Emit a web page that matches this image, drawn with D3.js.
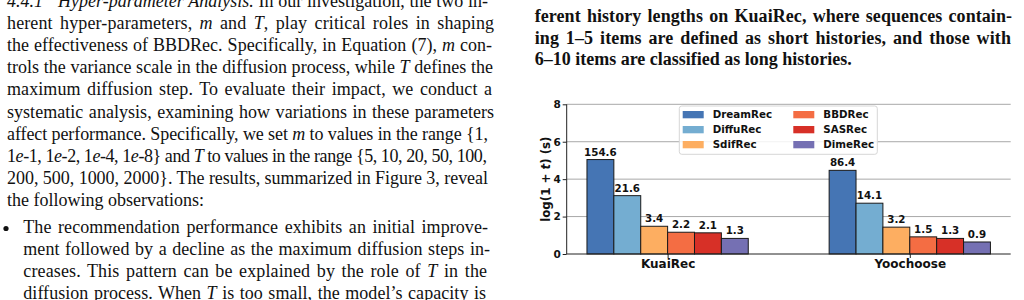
<!DOCTYPE html>
<html>
<head>
<meta charset="utf-8">
<script src="https://cdn.jsdelivr.net/npm/d3@7"></script>
<style>
  html, body { margin: 0; padding: 0; background: #fff; }
  svg { display: block; }
  text { white-space: pre; }
</style>
</head>
<body>
<svg id="page" width="1024" height="300"></svg>
<script>
// ---------------- data ----------------
const categories = ["KuaiRec", "Yoochoose"];
const methods = ["DreamRec", "DiffuRec", "SdifRec", "BBDRec", "SASRec", "DimeRec"];
const kuaiRecTimes = [154.6, 21.6, 3.4, 2.2, 2.1, 1.3];
const yoochooseTimes = [86.4, 14.1, 3.2, 1.5, 1.3, 0.9];
const seriesByCategory = [kuaiRecTimes, yoochooseTimes];
const methodColors = ["#4575b4", "#74add1", "#fdae61", "#f46d43", "#d73027", "#7570b3"];
const yTicks = [0, 2, 4, 6, 8];

// body text lines (*...* = italic)
const leftLines = [
  "*Hyper-parameter Analysis.* In our investigation, the two in-",
  "herent hyper-parameters, *m* and *T*, play critical roles in shaping",
  "the effectiveness of BBDRec. Specifically, in Equation (7), *m* con-",
  "trols the variance scale in the diffusion process, while *T* defines the",
  "maximum diffusion step. To evaluate their impact, we conduct a",
  "systematic analysis, examining how variations in these parameters",
  "affect performance. Specifically, we set *m* to values in the range {1,",
  "1*e*-1, 1*e*-2, 1*e*-4, 1*e*-8} and *T* to values in the range {5, 10, 20, 50, 100,",
  "200, 500, 1000, 2000}. The results, summarized in Figure 3, reveal",
  "the following observations:"
];
const bulletLines = [
  "The recommendation performance exhibits an initial improve-",
  "ment followed by a decline as the maximum diffusion steps in-",
  "creases. This pattern can be explained by the role of *T* in the",
  "diffusion process. When *T* is too small, the model\u2019s capacity is"
];
const captionLines = [
  "ferent history lengths on KuaiRec, where sequences contain-",
  "ing 1\u20135 items are defined as short histories, and those with",
  "6\u201310 items are classified as long histories."
];

// ---------------- page ----------------
const svg = d3.select("#page");

function addLine(g, str, x, y, right, font) {
  const t = g.append("text").attr("x", x).attr("y", y)
    .style("font-family", font.family).style("font-size", font.size + "px")
    .style("font-weight", font.weight || "normal").attr("fill", "#111");
  str.split("*").forEach((s, i) => {
    if (!s.length) return;
    t.append("tspan").text(s).style("font-style", i % 2 ? "italic" : null);
  });
  if (right) {
    const w = t.node().getComputedTextLength();
    const plain = str.replace(/\*/g, "");
    const nSp = (plain.match(/ /g) || []).length;
    const nCh = plain.length - 1;
    const extra = right - x - w;
    if (extra < 0) {
      t.style("letter-spacing", (extra / nCh).toFixed(3) + "px");
    } else {
      const ls = extra * 0.25 / nCh;
      const ws = extra * 0.75 / nSp;
      t.style("letter-spacing", ls.toFixed(3) + "px").attr("word-spacing", ws.toFixed(3));
    }
  }
  return t;
}

const serif = { family: "'Liberation Serif', 'DejaVu Serif', serif", size: 18 };
const serifBold = { family: "'Liberation Serif', 'DejaVu Serif', serif", size: 18, weight: "bold" };

const textG = svg.append("g");
// section number
textG.append("text").attr("x", 7).attr("y", 7)
  .style("font-family", serif.family).style("font-size", serif.size + "px")
  .style("font-style", "italic").attr("fill", "#111").text("4.4.1");
const leftRight = [488, 494, 492, 493, 492, 494, 488, 487, 488, null];
leftLines.forEach((l, i) => {
  addLine(textG, l, i === 0 ? 58 : 7, 7 + 22.1 * i, leftRight[i], serif);
});
// bullet
textG.append("circle").attr("cx", 6).attr("cy", 228.5).attr("r", 2.6).attr("fill", "#111");
const bulletRight = [488, 490, 487, 486];
bulletLines.forEach((l, i) => {
  addLine(textG, l, 23.3, 233.3 + 22 * i, bulletRight[i], serif);
});
// caption
const capRight = [1012, 1011, null];
captionLines.forEach((l, i) => {
  addLine(textG, l, 534.7, 22 + 21.5 * i, capRight[i], serifBold);
});

// ---------------- chart ----------------
const sans = "'DejaVu Sans', sans-serif";
const plot = { left: 566.7, right: 1010.7, top: 104.3, bottom: 254 };
const barW = 0.111;
const x = d3.scaleLinear().domain([-0.4167, 1.4167]).range([plot.left, plot.right]);
const y = d3.scaleLinear().domain([0, 8]).range([plot.bottom, plot.top]);
const chart = svg.append("g");

// grid
chart.append("g").selectAll("line").data(yTicks.filter(d => d > 0)).join("line")
  .attr("x1", plot.left).attr("x2", plot.right)
  .attr("y1", d => y(d)).attr("y2", d => y(d))
  .attr("stroke", "#a8a8a8").attr("stroke-width", 1);

// bars
const bars = [];
seriesByCategory.forEach((vals, ci) => {
  vals.forEach((v, mi) => bars.push({ ci, mi, v }));
});
const barX = d => x(d.ci + (d.mi - 3) * barW);
chart.append("g").selectAll("rect").data(bars).join("rect")
  .attr("x", barX)
  .attr("width", x(barW) - x(0))
  .attr("y", d => y(Math.log(1 + d.v)))
  .attr("height", d => y(0) - y(Math.log(1 + d.v)))
  .attr("fill", d => methodColors[d.mi])
  .attr("stroke", "#1a1a1a").attr("stroke-width", 1);

// value labels
chart.append("g").selectAll("text").data(bars).join("text")
  .attr("x", d => barX(d) + (x(barW) - x(0)) / 2)
  .attr("y", d => y(Math.log(1 + d.v)) - 4)
  .attr("text-anchor", "middle")
  .style("font-family", sans).style("font-size", "10.3px").style("font-weight", "bold")
  .attr("fill", "#111")
  .text(d => d.v.toFixed(1));

// axes
const yAxis = d3.axisLeft(y).tickValues(yTicks).tickSize(4).tickPadding(2).tickFormat(d3.format("d"));
const yg = chart.append("g").attr("transform", `translate(${plot.left},0)`).call(yAxis);
yg.select(".domain").attr("stroke", "#222").attr("d", `M0,${plot.top}V${plot.bottom}`);
yg.selectAll(".tick line").attr("stroke", "#222");
yg.selectAll(".tick text").style("font-family", sans).style("font-size", "10.5px")
  .style("font-weight", "bold").attr("fill", "#111");

const xAxis = d3.axisBottom(x).tickValues([0, 1]).tickSize(4).tickPadding(1)
  .tickFormat(i => categories[i]);
const xg = chart.append("g").attr("transform", `translate(0,${plot.bottom})`).call(xAxis);
xg.select(".domain").attr("stroke", "#222").attr("d", `M${plot.left},0H${plot.right}`);
xg.selectAll(".tick line").attr("stroke", "#222");
xg.selectAll(".tick text").style("font-family", sans).style("font-size", "12px")
  .style("font-weight", "bold").attr("fill", "#111");

// y label
const yl = chart.append("text")
  .attr("transform", `translate(550,${(plot.top + plot.bottom) / 2}) rotate(-90)`)
  .attr("text-anchor", "middle")
  .style("font-family", sans).style("font-size", "11.8px").style("font-weight", "bold")
  .attr("fill", "#111");
yl.append("tspan").text("log(1 + ");
yl.append("tspan").text("t").style("font-style", "italic");
yl.append("tspan").text(") (s)");

// legend
const leg = chart.append("g");
leg.append("rect").attr("x", 679.3).attr("y", 106).attr("width", 198).attr("height", 48.3)
  .attr("rx", 2.5).attr("fill", "#fff").attr("fill-opacity", 0.85)
  .attr("stroke", "#d6d6d6").attr("stroke-width", 1);
const legItems = methods.map((m, i) => ({ m, i, col: Math.floor(i / 3), row: i % 3 }));
const colX = [682.7, 793.3];
const rowY = [114.7, 129.7, 144.7];
const li = leg.selectAll("g.item").data(legItems).join("g").attr("class", "item");
li.append("rect").attr("x", d => colX[d.col]).attr("y", d => rowY[d.row] - 3.7)
  .attr("width", 21).attr("height", 7.3).attr("fill", d => methodColors[d.i]);
li.append("text").attr("x", d => colX[d.col] + 30).attr("y", d => rowY[d.row] + 3.7)
  .style("font-family", sans).style("font-size", "10.3px").style("font-weight", "bold")
  .attr("fill", "#111").text(d => d.m);
</script>
</body>
</html>
